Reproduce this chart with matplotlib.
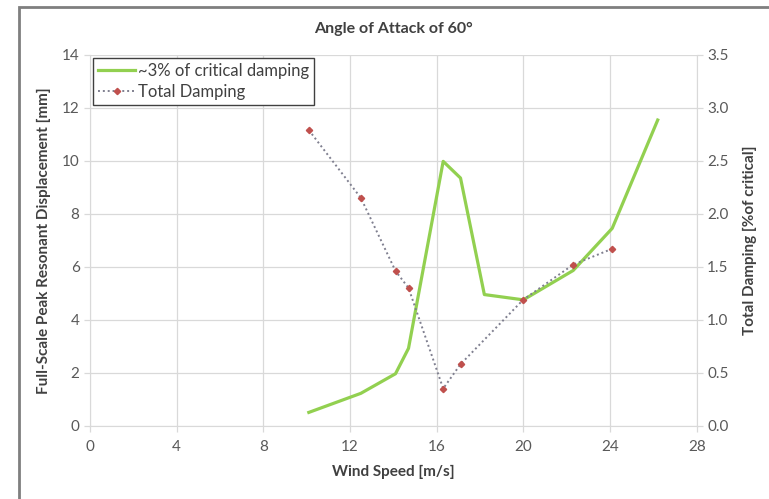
import matplotlib.pyplot as plt
from matplotlib.patches import Rectangle

plt.rcParams['font.family'] = ['Lato', 'DejaVu Sans']

# ~3% of critical damping (left axis, mm)
wind_disp = [10.1, 12.5, 14.1, 14.7, 16.3, 17.1, 18.2, 20.0, 22.3, 24.1, 26.2]
disp = [0.5, 1.22, 1.96, 2.92, 9.98, 9.35, 4.95, 4.75, 5.86, 7.45, 11.54]

# total damping (right axis, % of critical)
wind_damp = [10.1, 12.5, 14.1, 14.7, 16.3, 17.1, 20.0, 22.3, 24.1]
damp = [2.79, 2.15, 1.46, 1.30, 0.35, 0.58, 1.19, 1.52, 1.67]

x_ticks = [0, 4, 8, 12, 16, 20, 24, 28]
left_ticks = [0, 2, 4, 6, 8, 10, 12, 14]
right_ticks = [0.0, 0.5, 1.0, 1.5, 2.0, 2.5, 3.0, 3.5]

grid_c = '#d9d9d9'
txt_c = '#595959'

fig = plt.figure(figsize=(7.69, 4.99), dpi=100)
ax = fig.add_axes([0.117, 0.147, 0.789, 0.743])
ax2 = ax.twinx()

ax.plot(wind_disp, disp, color='#92d050', lw=2.3, label='~3% of critical damping', zorder=3)
ax2.plot(wind_damp, damp, color='#7f7f8f', lw=1.4, ls=(0, (1, 1.5)),
         marker='D', ms=3.2, mfc='#c0504d', mec='#c0504d', label='Total Damping')

ax.set_xlim(0, 28)
ax.set_ylim(0, 14)
ax2.set_ylim(0, 3.5)
ax.set_xticks(x_ticks)
ax.set_yticks(left_ticks)
ax2.set_yticks(right_ticks)
ax2.set_yticklabels([f'{v:.1f}' for v in right_ticks])

ax.grid(True, color=grid_c, lw=0.9)
ax.set_axisbelow(True)
for a in (ax, ax2):
    for s in a.spines.values():
        s.set_visible(False)
    a.tick_params(colors=grid_c, labelcolor=txt_c, labelsize=11, length=4, width=0.9)
ax.spines['left'].set_visible(True)
ax.spines['bottom'].set_visible(True)
ax2.spines['right'].set_visible(True)
for s in (ax.spines['left'], ax.spines['bottom'], ax2.spines['right']):
    s.set_color(grid_c)
ax.tick_params(axis='x', pad=6)

ax.set_xlabel('Wind Speed [m/s]', fontsize=11, fontweight='bold', color='#404040', labelpad=8)
ax.set_ylabel('Full-Scale Peak Resonant Displacement [mm]', fontsize=11, fontweight='bold',
              color='#404040', labelpad=8)
ax2.set_ylabel('Total Damping [%of critical]', fontsize=11, fontweight='bold',
               color='#404040', labelpad=10)
ax.set_title('Angle of Attack of 60°', fontsize=11.5, fontweight='bold', color='#404040', pad=16)

h1, l1 = ax.get_legend_handles_labels()
h2, l2 = ax2.get_legend_handles_labels()
leg = ax2.legend(h1 + h2, l1 + l2, loc='upper left', bbox_to_anchor=(0.0, 1.0),
                 fontsize=12, fancybox=False, framealpha=1, edgecolor='#404040',
                 handlelength=2.2, handletextpad=0.2, borderpad=0.3, labelspacing=0.3,
                 borderaxespad=0.2)
leg.get_frame().set_linewidth(1.0)
for t in leg.get_texts():
    t.set_color('#404040')

# chart area border
fig.patches.append(Rectangle((19 / 769, -0.05), 1.0, 1 - 7 / 499 + 0.05, transform=fig.transFigure,
                             fill=False, edgecolor='#7f7f7f', lw=2.0))

fig.savefig('out.png', dpi=100)
